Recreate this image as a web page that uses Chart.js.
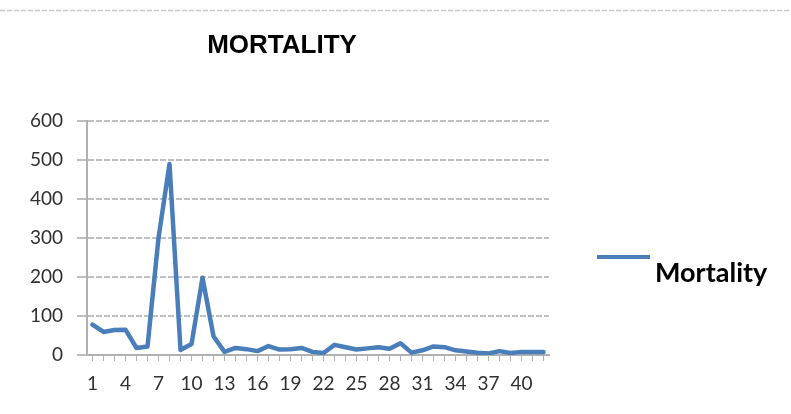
<!DOCTYPE html>
<html>
<head>
<meta charset="utf-8">
<script src="https://cdn.jsdelivr.net/npm/chart.js@4.4.1/dist/chart.umd.min.js"></script>
<style>
  html, body { margin: 0; padding: 0; background: #ffffff; }
  #wrap { width: 791px; height: 414px; position: relative; }
</style>
</head>
<body>
<div id="wrap"><canvas id="c" width="791" height="414"></canvas></div>
<script>
const categories = Array.from({length: 42}, (_, i) => String(i + 1));
const mortality = [78, 59, 64, 65, 18, 22, 300, 490, 13, 28, 198, 48, 8, 18, 15, 10, 23, 14, 15, 18, 8,
                   5, 26, 20, 14, 17, 20, 16, 30, 6, 12, 22, 20, 12, 9, 6, 4, 10, 5, 8, 8, 8];
const yTicks = [0, 100, 200, 300, 400, 500, 600];
const chartTitle = 'MORTALITY';
const seriesName = 'Mortality';

const lineColor = '#4a7ebb';

const decor = {
  id: 'decor',
  beforeDraw(chart) {
    const ctx = chart.ctx;
    ctx.save();
    ctx.strokeStyle = '#c8c8c8';
    ctx.lineWidth = 1.5;
    ctx.setLineDash([5, 2]);
    ctx.beginPath();
    ctx.moveTo(0, 10.5);
    ctx.lineTo(791, 10.5);
    ctx.stroke();
    ctx.restore();
  },
  afterDraw(chart) {
    const ctx = chart.ctx;
    ctx.save();
    ctx.fillStyle = '#000000';
    ctx.font = "bold 26px 'Liberation Sans Narrow', 'Liberation Sans', Arial, sans-serif";
    ctx.textAlign = 'center';
    ctx.textBaseline = 'middle';
    ctx.fillText(chartTitle, 282, 46);
    // legend
    const ds = chart.data.datasets[0];
    ctx.strokeStyle = ds.borderColor;
    ctx.lineWidth = 4;
    ctx.beginPath();
    ctx.moveTo(597, 257);
    ctx.lineTo(650, 257);
    ctx.stroke();
    ctx.font = "bold 27px Lato, 'Open Sans', sans-serif";
    ctx.textAlign = 'left';
    ctx.fillText(ds.label, 655, 273);
    ctx.restore();
  }
};

new Chart(document.getElementById('c'), {
  type: 'line',
  data: {
    labels: categories,
    datasets: [{
      label: seriesName,
      data: mortality,
      borderColor: lineColor,
      backgroundColor: lineColor,
      borderWidth: 4.5,
      borderJoinStyle: 'round',
      borderCapStyle: 'round',
      pointRadius: 0,
      tension: 0,
      fill: false
    }]
  },
  options: {
    responsive: false,
    animation: false,
    layout: { padding: { left: 0, right: 242, top: 121, bottom: 19 } },
    plugins: {
      legend: { display: false },
      title: { display: false },
      tooltip: { enabled: false }
    },
    scales: {
      x: {
        type: 'category',
        offset: true,
        afterFit: s => { s.height = 40; },
        grid: {
          display: true,
          drawOnChartArea: false,
          drawTicks: true,
          tickLength: 6,
          color: '#b0b0b0',
          lineWidth: 1
        },
        border: { display: true, color: '#b0b0b0', width: 2 },
        ticks: {
          autoSkip: false,
          maxRotation: 0,
          minRotation: 0,
          padding: 11,
          color: '#303030',
          font: { family: "Lato, 'Open Sans', sans-serif", size: 19 },
          callback: function(value, index) {
            return index % 3 === 0 ? this.getLabelForValue(value) : '';
          }
        }
      },
      y: {
        min: 0,
        max: 600,
        afterFit: s => { s.width = 87; },
        afterBuildTicks: s => { s.ticks = yTicks.map(v => ({ value: v })); },
        grid: {
          color: '#c0c0c0',
          lineWidth: 2,
          drawTicks: true,
          tickLength: 10
        },
        border: { display: true, color: '#b0b0b0', width: 2, dash: [6, 2] },
        ticks: {
          padding: 14,
          color: '#303030',
          font: { family: "Lato, 'Open Sans', sans-serif", size: 19 }
        }
      }
    }
  },
  plugins: [decor]
});
</script>
</body>
</html>
